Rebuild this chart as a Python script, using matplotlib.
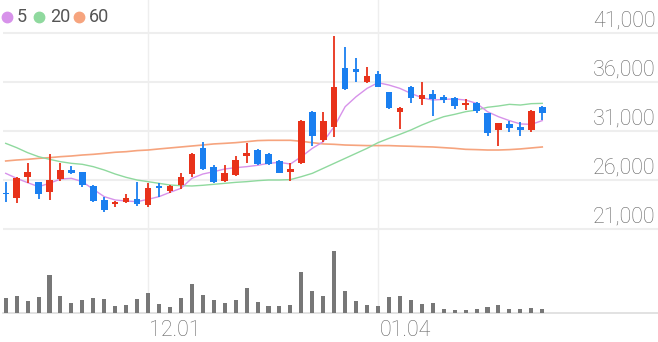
import matplotlib
matplotlib.use("Agg")
import matplotlib.pyplot as plt
import numpy as np

# 일봉 데이터 (그림에서 읽은 추정값)
opens = [24710, 24200, 26270, 25760, 24740, 26100, 27020, 26780, 25420, 23960,
         23590, 23760, 24100, 23450, 25420, 24910, 25490, 26610, 29230, 27290,
         25930, 26550, 28450, 29060, 28650, 27910, 26850, 27700, 32970, 30080,
         31440, 37400, 37330, 35970, 36820, 34950, 32940, 35520, 34300, 34740,
         34500, 34400, 33620, 33890, 32800, 31140, 31720, 31440, 31100, 33480]
highs = [25830, 26340, 27700, 25760, 28650, 27700, 27430, 26780, 25490, 24300,
         23860, 24570, 25830, 25660, 25660, 25490, 26680, 28720, 29910, 27530,
         27530, 28450, 29810, 29130, 28720, 28040, 27770, 32100, 33000, 32970,
         40690, 39610, 38420, 37570, 37160, 35010, 33420, 35560, 36030, 35180,
         34670, 34430, 34270, 33990, 32840, 31800, 32050, 31920, 33140, 33500]
lows = [23790, 23690, 25730, 24030, 23960, 25900, 26610, 25250, 23790, 22700,
        23280, 23690, 23380, 23210, 24300, 24640, 25050, 26340, 27020, 25660,
        25830, 26410, 27700, 27570, 27570, 26680, 25900, 27650, 29470, 29910,
        30420, 35200, 36030, 35930, 35460, 33280, 31170, 33820, 33650, 32530,
        33820, 33280, 33140, 32870, 30490, 29470, 30870, 30530, 30930, 32120]
closes = [24570, 26240, 26850, 24540, 25970, 26990, 26680, 25490, 23860, 22940,
          23790, 24130, 23550, 25150, 25150, 25390, 26340, 28650, 27120, 25830,
          26680, 28040, 28790, 27630, 27630, 26750, 27160, 32050, 30490, 32020,
          35460, 35250, 37060, 36610, 35520, 33380, 33380, 34330, 34710, 34270,
          34160, 33550, 33890, 33040, 30830, 31780, 31270, 31100, 33040, 32870]
volumes = [150, 167, 120, 160, 377, 163, 93, 130, 150, 140,
           67, 73, 137, 197, 90, 57, 143, 283, 173, 127,
           97, 130, 250, 110, 67, 67, 77, 410, 217, 167,
           617, 217, 113, 80, 67, 157, 163, 130, 90, 100,
           37, 23, 27, 33, 60, 77, 33, 37, 47, 33]

# 이동평균선
ma5 = [26680, 26170, 25730, 25320, 25660, 26100, 26170, 25830, 25050, 24300,
       23960, 23860, 23790, 24030, 24300, 24740, 25150, 26170, 26610, 26850,
       27120, 27260, 27360, 27500, 27700, 27800, 27630, 28380, 29230, 29910,
       31440, 33480, 34500, 35350, 35930, 35690, 35350, 34840, 34400, 34160,
       34230, 34270, 34160, 33820, 32970, 32460, 32060, 31720, 31680, 32060]
ma20 = [29740, 29300, 28790, 28380, 28110, 27870, 27700, 27600, 27360, 27020,
        26610, 26270, 26000, 25830, 25660, 25490, 25420, 25390, 25460, 25560,
        25660, 25760, 25830, 25930, 26000, 26000, 26040, 26340, 26680, 27190,
        27700, 28210, 28720, 29230, 29810, 30250, 30660, 31100, 31610, 32060,
        32460, 32700, 32970, 33140, 33420, 33550, 33720, 33650, 33790, 33820]
ma60 = [27940, 28040, 28110, 28210, 28280, 28380, 28450, 28550, 28620, 28720,
        28830, 28890, 29000, 29060, 29170, 29270, 29370, 29470, 29570, 29680,
        29740, 29810, 29910, 30020, 30050, 30050, 30050, 29950, 29810, 29680,
        29640, 29570, 29540, 29510, 29510, 29510, 29470, 29440, 29400, 29370,
        29300, 29230, 29130, 29100, 29060, 29060, 29100, 29170, 29270, 29370]

date_ticks = [13, 34]
date_labels = ["12.01", "01.04"]
price_ticks = [21000, 26000, 31000, 36000, 41000]

UP = "#e8321a"
DOWN = "#1a7ff0"
C5, C20, C60 = "#d792ea", "#8fd99e", "#f6a47e"
GRID = "#eeeeee"
TXT = "#666666"
FONT = "Roboto"

W, H = 658, 342
fig = plt.figure(figsize=(W / 100, H / 100), dpi=100)

# 픽셀 기준 배치
px_left, px_right = 3, 658
step, x0 = 10.95, 5.7
xlim = ((px_left - x0) / step, (px_right - x0) / step)

ax = fig.add_axes([px_left / W, (H - 232) / H, (px_right - px_left) / W, 232 / H])
axv = fig.add_axes([px_left / W, (H - 312.7) / H, (px_right - px_left) / W, 80.7 / H])

for a in (ax, axv):
    a.set_xlim(*xlim)
    for s in a.spines.values():
        s.set_visible(False)
    a.set_xticks([])
    a.set_yticks([])
    a.patch.set_alpha(0)
    for t in date_ticks:
        a.axvline(t, color=GRID, lw=1, zorder=0)

ax.set_ylim(20694, 44367)
axv.set_ylim(0, 807)

for p in price_ticks:
    ax.axhline(p, color=GRID, lw=1.5, zorder=0)
    ax.annotate(f"{p:,}", xy=(1, p), xycoords=("axes fraction", "data"),
                xytext=(-2, 5), textcoords="offset points", ha="right",
                va="baseline", fontsize=15.5, color=TXT, family=FONT,
                fontweight="light")

x = np.arange(len(opens))
o = np.array(opens)
c = np.array(closes)
colors = [UP if cc >= oo else DOWN for oo, cc in zip(o, c)]

# 이동평균선
ax.plot(x, ma60, color=C60, lw=1.2, zorder=2)
ax.plot(x, ma20, color=C20, lw=1.0, zorder=2)
ax.plot(x, ma5, color=C5, lw=1.0, zorder=2)

# 캔들
ax.vlines(x, lows, highs, colors=colors, lw=1.3, zorder=3)
bottom = np.minimum(o, c)
height = np.maximum(np.abs(c - o), 120)
ax.bar(x, height, bottom=bottom, width=0.6, color=colors, zorder=4)

# 거래량
axv.bar(x, volumes, width=0.37, color="#777777", zorder=2)
axv.axhline(0, color="#dddddd", lw=1.2, zorder=1, clip_on=False)
for t, lab in zip(date_ticks, date_labels):
    axv.annotate(lab, xy=(t, 0), xycoords="data", xytext=(1, -12.5),
                 textcoords="offset points", ha="left", va="center",
                 fontsize=15.5, color=TXT, family=FONT, fontweight="light")

# 범례
legend_items = [("5", C5, 6.7, 17), ("20", C20, 39.3, 50), ("60", C60, 79.3, 89)]
for lab, col, cx, tx in legend_items:
    fig.add_artist(plt.Line2D([cx / W], [1 - 16.5 / H], marker="o", markersize=7.5,
                              color=col, transform=fig.transFigure, lw=0))
    fig.text(tx / W, 1 - 16.5 / H, lab, ha="left", va="center", fontsize=13,
             color="#555555", family=FONT)

fig.savefig("out.png", dpi=100)
